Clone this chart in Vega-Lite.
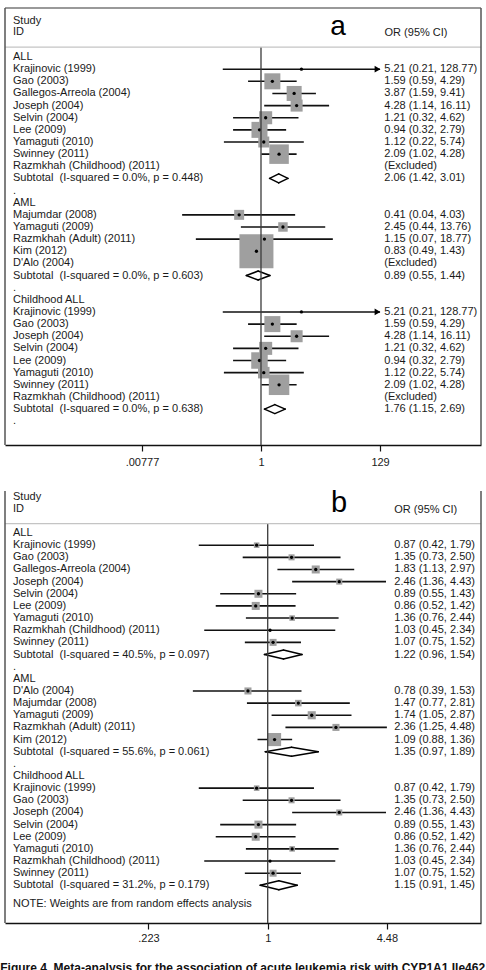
{
  "$schema": "https://vega.github.io/schema/vega-lite/v6.json",
  "padding": {"left": 0, "top": 7, "right": 0, "bottom": 0},
  "config": {
    "view": {"stroke": null},
    "font": "Liberation Sans",
    "text": {"font": "Liberation Sans", "fontSize": 11, "color": "#1a1a1a"},
    "axisX": {
      "title": null, "grid": false,
      "domainColor": "#111", "domainWidth": 1.5,
      "tickColor": "#111", "tickWidth": 1.2, "tickSize": 6,
      "labelFont": "Liberation Sans", "labelFontSize": 11, "labelColor": "#1a1a1a",
      "labelPadding": 5, "labelFlush": false, "labelOverlap": false
    }
  },
  "title": {
    "text": "Figure 4. Meta-analysis for the association of acute leukemia risk with CYP1A1 Ile462",
    "orient": "bottom",
    "anchor": "start",
    "font": "Liberation Sans",
    "fontSize": 12,
    "fontWeight": "bold",
    "color": "#111",
    "baseline": "top",
    "offset": 20,
    "dx": -4
  },
  "datasets": {
    "leukemiaA": [
      {"row": 0, "label": "ALL", "kind": "group"},
      {"row": 1, "label": "Krajinovic (1999)", "kind": "study", "or": 5.21, "lo": 0.21, "hi": 128.77, "w": 0.3},
      {"row": 2, "label": "Gao (2003)", "kind": "study", "or": 1.59, "lo": 0.59, "hi": 4.29, "w": 18.3},
      {"row": 3, "label": "Gallegos-Arreola (2004)", "kind": "study", "or": 3.87, "lo": 1.59, "hi": 9.41, "w": 16.1},
      {"row": 4, "label": "Joseph (2004)", "kind": "study", "or": 4.28, "lo": 1.14, "hi": 16.11, "w": 10.3},
      {"row": 5, "label": "Selvin (2004)", "kind": "study", "or": 1.21, "lo": 0.32, "hi": 4.62, "w": 12.1},
      {"row": 6, "label": "Lee (2009)", "kind": "study", "or": 0.94, "lo": 0.32, "hi": 2.79, "w": 18.3},
      {"row": 7, "label": "Yamaguti (2010)", "kind": "study", "or": 1.12, "lo": 0.22, "hi": 5.74, "w": 8.6},
      {"row": 8, "label": "Swinney (2011)", "kind": "study", "or": 2.09, "lo": 1.02, "hi": 4.28, "w": 27.2},
      {"row": 9, "label": "Razmkhah (Childhood) (2011)", "kind": "excl"},
      {"row": 10, "label": "Subtotal\u00a0 (I-squared = 0.0%, p = 0.448)", "kind": "sub", "or": 2.06, "lo": 1.42, "hi": 3.01},
      {"row": 11, "label": ".", "kind": "gap"},
      {"row": 12, "label": "AML", "kind": "group"},
      {"row": 13, "label": "Majumdar (2008)", "kind": "study", "or": 0.41, "lo": 0.04, "hi": 4.03, "w": 7.1},
      {"row": 14, "label": "Yamaguti (2009)", "kind": "study", "or": 2.45, "lo": 0.44, "hi": 13.76, "w": 6.4},
      {"row": 15, "label": "Razmkhah (Adult) (2011)", "kind": "study", "or": 1.15, "lo": 0.07, "hi": 18.77, "w": 2.6},
      {"row": 16, "label": "Kim (2012)", "kind": "study", "or": 0.83, "lo": 0.49, "hi": 1.43, "w": 82.6},
      {"row": 17, "label": "D'Alo (2004)", "kind": "excl"},
      {"row": 18, "label": "Subtotal\u00a0 (I-squared = 0.0%, p = 0.603)", "kind": "sub", "or": 0.89, "lo": 0.55, "hi": 1.44},
      {"row": 19, "label": ".", "kind": "gap"},
      {"row": 20, "label": "Childhood ALL", "kind": "group"},
      {"row": 21, "label": "Krajinovic (1999)", "kind": "study", "or": 5.21, "lo": 0.21, "hi": 128.77, "w": 0.3},
      {"row": 22, "label": "Gao (2003)", "kind": "study", "or": 1.59, "lo": 0.59, "hi": 4.29, "w": 18.3},
      {"row": 23, "label": "Joseph (2004)", "kind": "study", "or": 4.28, "lo": 1.14, "hi": 16.11, "w": 10.3},
      {"row": 24, "label": "Selvin (2004)", "kind": "study", "or": 1.21, "lo": 0.32, "hi": 4.62, "w": 12.1},
      {"row": 25, "label": "Lee (2009)", "kind": "study", "or": 0.94, "lo": 0.32, "hi": 2.79, "w": 19.4},
      {"row": 26, "label": "Yamaguti (2010)", "kind": "study", "or": 1.12, "lo": 0.22, "hi": 5.74, "w": 9.5},
      {"row": 27, "label": "Swinney (2011)", "kind": "study", "or": 2.09, "lo": 1.02, "hi": 4.28, "w": 30},
      {"row": 28, "label": "Razmkhah (Childhood) (2011)", "kind": "excl"},
      {"row": 29, "label": "Subtotal\u00a0 (I-squared = 0.0%, p = 0.638)", "kind": "sub", "or": 1.76, "lo": 1.15, "hi": 2.69},
      {"row": 30, "label": ".", "kind": "gap"}
    ],
    "leukemiaB": [
      {"row": 0, "label": "ALL", "kind": "group"},
      {"row": 1, "label": "Krajinovic (1999)", "kind": "study", "or": 0.87, "lo": 0.42, "hi": 1.79, "w": 8.1},
      {"row": 2, "label": "Gao (2003)", "kind": "study", "or": 1.35, "lo": 0.73, "hi": 2.50, "w": 9.6},
      {"row": 3, "label": "Gallegos-Arreola (2004)", "kind": "study", "or": 1.83, "lo": 1.13, "hi": 2.97, "w": 16.9},
      {"row": 4, "label": "Joseph (2004)", "kind": "study", "or": 2.46, "lo": 1.36, "hi": 4.43, "w": 9.6},
      {"row": 5, "label": "Selvin (2004)", "kind": "study", "or": 0.89, "lo": 0.55, "hi": 1.43, "w": 16.9},
      {"row": 6, "label": "Lee (2009)", "kind": "study", "or": 0.86, "lo": 0.52, "hi": 1.42, "w": 16.9},
      {"row": 7, "label": "Yamaguti (2010)", "kind": "study", "or": 1.36, "lo": 0.76, "hi": 2.44, "w": 8.1},
      {"row": 8, "label": "Razmkhah (Childhood) (2011)", "kind": "study", "or": 1.03, "lo": 0.45, "hi": 2.34, "w": 1.1},
      {"row": 9, "label": "Swinney (2011)", "kind": "study", "or": 1.07, "lo": 0.75, "hi": 1.52, "w": 12.9},
      {"row": 10, "label": "Subtotal\u00a0 (I-squared = 40.5%, p = 0.097)", "kind": "sub", "or": 1.22, "lo": 0.96, "hi": 1.54},
      {"row": 11, "label": ".", "kind": "gap"},
      {"row": 12, "label": "AML", "kind": "group"},
      {"row": 13, "label": "D'Alo (2004)", "kind": "study", "or": 0.78, "lo": 0.39, "hi": 1.53, "w": 13.1},
      {"row": 14, "label": "Majumdar (2008)", "kind": "study", "or": 1.47, "lo": 0.77, "hi": 2.81, "w": 11.3},
      {"row": 15, "label": "Yamaguti (2009)", "kind": "study", "or": 1.74, "lo": 1.05, "hi": 2.87, "w": 17.2},
      {"row": 16, "label": "Razmkhah (Adult) (2011)", "kind": "study", "or": 2.36, "lo": 1.25, "hi": 4.48, "w": 13.1},
      {"row": 17, "label": "Kim (2012)", "kind": "study", "or": 1.09, "lo": 0.88, "hi": 1.36, "w": 45.4},
      {"row": 18, "label": "Subtotal\u00a0 (I-squared = 55.6%, p = 0.061)", "kind": "sub", "or": 1.35, "lo": 0.97, "hi": 1.89},
      {"row": 19, "label": ".", "kind": "gap"},
      {"row": 20, "label": "Childhood ALL", "kind": "group"},
      {"row": 21, "label": "Krajinovic (1999)", "kind": "study", "or": 0.87, "lo": 0.42, "hi": 1.79, "w": 8.1},
      {"row": 22, "label": "Gao (2003)", "kind": "study", "or": 1.35, "lo": 0.73, "hi": 2.50, "w": 9.6},
      {"row": 23, "label": "Joseph (2004)", "kind": "study", "or": 2.46, "lo": 1.36, "hi": 4.43, "w": 9.6},
      {"row": 24, "label": "Selvin (2004)", "kind": "study", "or": 0.89, "lo": 0.55, "hi": 1.43, "w": 16.9},
      {"row": 25, "label": "Lee (2009)", "kind": "study", "or": 0.86, "lo": 0.52, "hi": 1.42, "w": 16.9},
      {"row": 26, "label": "Yamaguti (2010)", "kind": "study", "or": 1.36, "lo": 0.76, "hi": 2.44, "w": 8.1},
      {"row": 27, "label": "Razmkhah (Childhood) (2011)", "kind": "study", "or": 1.03, "lo": 0.45, "hi": 2.34, "w": 1.1},
      {"row": 28, "label": "Swinney (2011)", "kind": "study", "or": 1.07, "lo": 0.75, "hi": 1.52, "w": 12.9},
      {"row": 29, "label": "Subtotal\u00a0 (I-squared = 31.2%, p = 0.179)", "kind": "sub", "or": 1.15, "lo": 0.91, "hi": 1.45}
    ]
  },
  "resolve": {"scale": {"x": "independent", "y": "independent", "size": "independent"}, "axis": {"x": "independent"}},
  "bounds": "flush",
  "spacing": 46,
  "vconcat": [
    {
      "width": 476,
      "height": 437,
      "data": {"name": "leukemiaA"},
      "encoding": {
        "x": {
          "type": "quantitative",
          "scale": {"type": "log", "domain": [0.00002897, 7943], "nice": false, "zero": false},
          "axis": {
            "values": [0.00777, 1, 129],
            "labelExpr": "datum.value < 0.01 ? '.00777' : (datum.value > 100 ? '129' : '1')",
            "title": null
          }
        },
        "y": {
          "type": "quantitative",
          "scale": {"domain": [-4.04, 31.96], "reverse": true, "nice": false, "zero": false},
          "axis": null
        }
      },
      "layer": [
        {
          "transform": [{"filter": "datum.kind == 'study'"}],
          "mark": {"type": "rule", "color": "#111", "strokeWidth": 1.6},
          "encoding": {"x": {"field": "lo"}, "x2": {"field": "hi"}, "y": {"field": "row"}}
        },
        {
          "transform": [{"filter": "datum.kind == 'study'"}],
          "mark": {"type": "point", "shape": "square", "filled": true, "color": "#9f9f9f", "opacity": 1, "strokeWidth": 0},
          "encoding": {
            "x": {"field": "or"},
            "y": {"field": "row"},
            "size": {"field": "w", "type": "quantitative", "scale": {"domain": [0, 100], "range": [0, 1400]}, "legend": null}
          }
        },
        {
          "transform": [{"filter": "datum.kind == 'study'"}],
          "mark": {"type": "point", "shape": "circle", "filled": true, "color": "#000", "opacity": 1, "size": 11},
          "encoding": {"x": {"field": "or"}, "y": {"field": "row"}}
        },
        {
          "transform": [{"filter": "datum.kind == 'study' && datum.hi > 100"}],
          "mark": {"type": "point", "shape": "triangle-right", "filled": true, "color": "#000", "opacity": 1, "size": 45, "xOffset": -2.5},
          "encoding": {"x": {"field": "hi"}, "y": {"field": "row"}}
        },
        {
          "transform": [{"filter": "datum.kind == 'sub'"}],
          "mark": {"type": "rule", "color": "#000", "strokeWidth": 1.5, "strokeCap": "round", "y2Offset": -4.5},
          "encoding": {"x": {"field": "lo"}, "x2": {"field": "or"}, "y": {"field": "row"}, "y2": {"field": "row"}}
        },
        {
          "transform": [{"filter": "datum.kind == 'sub'"}],
          "mark": {"type": "rule", "color": "#000", "strokeWidth": 1.5, "strokeCap": "round", "y2Offset": 4.5},
          "encoding": {"x": {"field": "lo"}, "x2": {"field": "or"}, "y": {"field": "row"}, "y2": {"field": "row"}}
        },
        {
          "transform": [{"filter": "datum.kind == 'sub'"}],
          "mark": {"type": "rule", "color": "#000", "strokeWidth": 1.5, "strokeCap": "round", "yOffset": -4.5},
          "encoding": {"x": {"field": "or"}, "x2": {"field": "hi"}, "y": {"field": "row"}, "y2": {"field": "row"}}
        },
        {
          "transform": [{"filter": "datum.kind == 'sub'"}],
          "mark": {"type": "rule", "color": "#000", "strokeWidth": 1.5, "strokeCap": "round", "yOffset": 4.5},
          "encoding": {"x": {"field": "or"}, "x2": {"field": "hi"}, "y": {"field": "row"}, "y2": {"field": "row"}}
        },
        {
          "mark": {"type": "text", "align": "left", "baseline": "middle"},
          "encoding": {"x": {"datum": 0.0000402}, "y": {"field": "row"}, "text": {"field": "label"}}
        },
        {
          "transform": [
            {"filter": "datum.kind == 'study' || datum.kind == 'sub' || datum.kind == 'excl'"},
            {"calculate": "datum.kind == 'excl' ? '(Excluded)' : format(datum.or, '.2f') + ' (' + format(datum.lo, '.2f') + ', ' + format(datum.hi, '.2f') + ')'", "as": "ci"}
          ],
          "mark": {"type": "text", "align": "left", "baseline": "middle"},
          "encoding": {"x": {"datum": 153.4}, "y": {"field": "row"}, "text": {"field": "ci"}}
        },
        {
          "data": {"values": [{}]},
          "mark": {"type": "rule", "color": "#3a3a3a", "strokeWidth": 1.3},
          "encoding": {"x": {"datum": 1}, "y": {"datum": -0.82}, "y2": {"datum": 31.96}}
        },
        {
          "data": {"values": [{}]},
          "mark": {"type": "rule", "color": "#c4c4c4", "strokeWidth": 1.2},
          "encoding": {"y": {"datum": -0.82}}
        },
        {
          "data": {"values": [{}]},
          "mark": {"type": "rule", "color": "#777", "strokeWidth": 1.3},
          "encoding": {"y": {"datum": -4.04}}
        },
        {
          "data": {"values": [{}]},
          "mark": {"type": "rule", "color": "#555", "strokeWidth": 1.5},
          "encoding": {"x": {"datum": 0.00002897}}
        },
        {
          "data": {"values": [{}]},
          "mark": {"type": "rule", "color": "#555", "strokeWidth": 1.5},
          "encoding": {"x": {"datum": 7943}}
        },
        {
          "data": {"values": [{}]},
          "mark": {"type": "text", "text": "Study", "align": "left", "baseline": "middle"},
          "encoding": {"x": {"datum": 0.0000402}, "y": {"datum": -2.99}}
        },
        {
          "data": {"values": [{}]},
          "mark": {"type": "text", "text": "ID", "align": "left", "baseline": "middle"},
          "encoding": {"x": {"datum": 0.0000402}, "y": {"datum": -2.05}}
        },
        {
          "data": {"values": [{}]},
          "mark": {"type": "text", "text": "OR (95% CI)", "align": "left", "baseline": "middle"},
          "encoding": {"x": {"datum": 155}, "y": {"datum": -1.98}}
        },
        {
          "data": {"values": [{}]},
          "mark": {"type": "text", "text": "a", "align": "center", "baseline": "alphabetic", "fontSize": 28, "color": "#000"},
          "encoding": {"x": {"datum": 23.17}, "y": {"datum": -1.85}}
        }
      ]
    },
    {
      "width": 476,
      "height": 432,
      "data": {"name": "leukemiaB"},
      "encoding": {
        "x": {
          "type": "quantitative",
          "scale": {"type": "log", "domain": [0.03668, 14.64], "nice": false, "zero": false},
          "axis": {
            "values": [0.223, 1, 4.48],
            "labelExpr": "datum.value < 0.5 ? '.223' : (datum.value > 2 ? '4.48' : '1')",
            "title": null,
            "labelPadding": 3
          }
        },
        "y": {
          "type": "quantitative",
          "scale": {"domain": [-3.46, 32.1], "reverse": true, "nice": false, "zero": false},
          "axis": null
        }
      },
      "layer": [
        {
          "transform": [{"filter": "datum.kind == 'study'"}],
          "mark": {"type": "rule", "color": "#111", "strokeWidth": 1.6},
          "encoding": {"x": {"field": "lo"}, "x2": {"field": "hi"}, "y": {"field": "row"}}
        },
        {
          "transform": [{"filter": "datum.kind == 'study'"}],
          "mark": {"type": "point", "shape": "square", "filled": true, "color": "#9f9f9f", "opacity": 1, "strokeWidth": 0},
          "encoding": {
            "x": {"field": "or"},
            "y": {"field": "row"},
            "size": {"field": "w", "type": "quantitative", "scale": {"domain": [0, 100], "range": [0, 380]}, "legend": null}
          }
        },
        {
          "transform": [{"filter": "datum.kind == 'study'"}],
          "mark": {"type": "point", "shape": "circle", "filled": true, "color": "#000", "opacity": 1, "size": 11},
          "encoding": {"x": {"field": "or"}, "y": {"field": "row"}}
        },
        {
          "transform": [{"filter": "datum.kind == 'sub'"}],
          "mark": {"type": "rule", "color": "#000", "strokeWidth": 1.5, "strokeCap": "round", "y2Offset": -4.5},
          "encoding": {"x": {"field": "lo"}, "x2": {"field": "or"}, "y": {"field": "row"}, "y2": {"field": "row"}}
        },
        {
          "transform": [{"filter": "datum.kind == 'sub'"}],
          "mark": {"type": "rule", "color": "#000", "strokeWidth": 1.5, "strokeCap": "round", "y2Offset": 4.5},
          "encoding": {"x": {"field": "lo"}, "x2": {"field": "or"}, "y": {"field": "row"}, "y2": {"field": "row"}}
        },
        {
          "transform": [{"filter": "datum.kind == 'sub'"}],
          "mark": {"type": "rule", "color": "#000", "strokeWidth": 1.5, "strokeCap": "round", "yOffset": -4.5},
          "encoding": {"x": {"field": "or"}, "x2": {"field": "hi"}, "y": {"field": "row"}, "y2": {"field": "row"}}
        },
        {
          "transform": [{"filter": "datum.kind == 'sub'"}],
          "mark": {"type": "rule", "color": "#000", "strokeWidth": 1.5, "strokeCap": "round", "yOffset": 4.5},
          "encoding": {"x": {"field": "or"}, "x2": {"field": "hi"}, "y": {"field": "row"}, "y2": {"field": "row"}}
        },
        {
          "mark": {"type": "text", "align": "left", "baseline": "middle"},
          "encoding": {"x": {"datum": 0.04057}, "y": {"field": "row"}, "text": {"field": "label"}}
        },
        {
          "transform": [
            {"filter": "datum.kind == 'study' || datum.kind == 'sub' || datum.kind == 'excl'"},
            {"calculate": "datum.kind == 'excl' ? '(Excluded)' : format(datum.or, '.2f') + ' (' + format(datum.lo, '.2f') + ', ' + format(datum.hi, '.2f') + ')'", "as": "ci"}
          ],
          "mark": {"type": "text", "align": "left", "baseline": "middle"},
          "encoding": {"x": {"datum": 4.918}, "y": {"field": "row"}, "text": {"field": "ci"}}
        },
        {
          "data": {"values": [{}]},
          "mark": {"type": "text", "text": "NOTE: Weights are from random effects analysis", "align": "left", "baseline": "middle"},
          "encoding": {"x": {"datum": 0.04057}, "y": {"datum": 30.5}}
        },
        {
          "data": {"values": [{}]},
          "mark": {"type": "rule", "color": "#3a3a3a", "strokeWidth": 1.3},
          "encoding": {"x": {"datum": 1}, "y": {"datum": -0.78}, "y2": {"datum": 32.1}}
        },
        {
          "data": {"values": [{}]},
          "mark": {"type": "rule", "color": "#c4c4c4", "strokeWidth": 1.2},
          "encoding": {"y": {"datum": -0.78}}
        },
        {
          "data": {"values": [{}]},
          "mark": {"type": "rule", "color": "#555", "strokeWidth": 1.5},
          "encoding": {"x": {"datum": 0.03668}}
        },
        {
          "data": {"values": [{}]},
          "mark": {"type": "rule", "color": "#555", "strokeWidth": 1.5},
          "encoding": {"x": {"datum": 14.64}}
        },
        {
          "data": {"values": [{}]},
          "mark": {"type": "text", "text": "Study", "align": "left", "baseline": "middle"},
          "encoding": {"x": {"datum": 0.04057}, "y": {"datum": -2.93}}
        },
        {
          "data": {"values": [{}]},
          "mark": {"type": "text", "text": "ID", "align": "left", "baseline": "middle"},
          "encoding": {"x": {"datum": 0.04057}, "y": {"datum": -1.99}}
        },
        {
          "data": {"values": [{}]},
          "mark": {"type": "text", "text": "OR (95% CI)", "align": "left", "baseline": "middle"},
          "encoding": {"x": {"datum": 4.918}, "y": {"datum": -1.88}}
        },
        {
          "data": {"values": [{}]},
          "mark": {"type": "text", "text": "b", "align": "center", "baseline": "alphabetic", "fontSize": 29, "color": "#000"},
          "encoding": {"x": {"datum": 2.452}, "y": {"datum": -1.77}}
        }
      ]
    }
  ]
}
